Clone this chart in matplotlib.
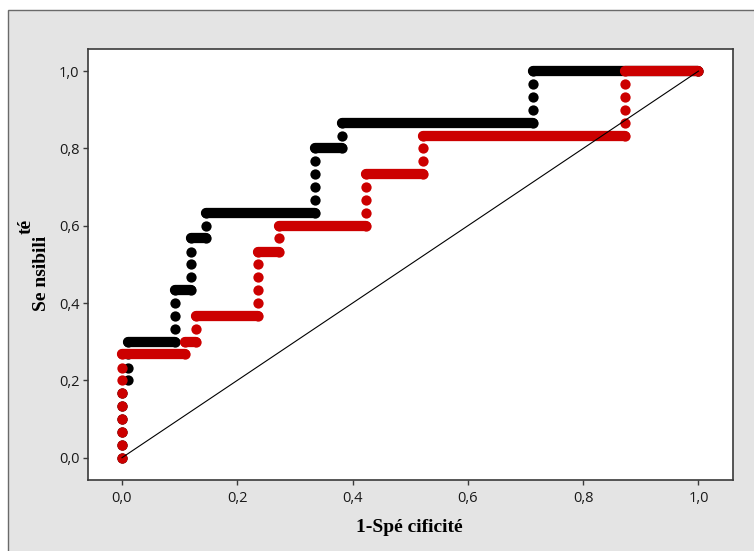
import matplotlib
matplotlib.use("Agg")
import matplotlib.pyplot as plt
from matplotlib.patches import Rectangle

# ---- data (ROC points: 1-specificity, sensitivity) ----
black_fpr = [0.0, 0.0, 0.0, 0.0, 0.0, 0.0,
             0.01, 0.01, 0.01, 0.01,
             0.092, 0.092, 0.092, 0.092, 0.092,
             0.119, 0.119, 0.119, 0.119, 0.119,
             0.145, 0.145, 0.145,
             0.335, 0.335, 0.335, 0.335, 0.335, 0.335,
             0.381, 0.381, 0.381,
             0.713, 0.713, 0.713, 0.713, 0.713,
             1.0]
black_tpr = [0.0, 0.033, 0.067, 0.1, 0.133, 0.167,
             0.2, 0.233, 0.267, 0.3,
             0.3, 0.333, 0.367, 0.4, 0.433,
             0.433, 0.467, 0.5, 0.533, 0.567,
             0.567, 0.6, 0.633,
             0.633, 0.667, 0.7, 0.733, 0.767, 0.8,
             0.8, 0.833, 0.867,
             0.867, 0.9, 0.933, 0.967, 1.0,
             1.0]

red_fpr = [0.0, 0.0, 0.0, 0.0, 0.0, 0.0, 0.0, 0.0, 0.0,
           0.11, 0.11,
           0.128, 0.128, 0.128,
           0.236, 0.236, 0.236, 0.236, 0.236, 0.236,
           0.272, 0.272, 0.272,
           0.423, 0.423, 0.423, 0.423, 0.423,
           0.522, 0.522, 0.522, 0.522,
           0.873, 0.873, 0.873, 0.873, 0.873, 0.873,
           1.0]
red_tpr = [0.0, 0.033, 0.067, 0.1, 0.133, 0.167, 0.2, 0.233, 0.267,
           0.267, 0.3,
           0.3, 0.333, 0.367,
           0.367, 0.4, 0.433, 0.467, 0.5, 0.533,
           0.533, 0.567, 0.6,
           0.6, 0.633, 0.667, 0.7, 0.733,
           0.733, 0.767, 0.8, 0.833,
           0.833, 0.867, 0.9, 0.933, 0.967, 1.0,
           1.0]

ref_line = [0.0, 1.0]
tick_vals = [0.0, 0.2, 0.4, 0.6, 0.8, 1.0]
tick_labels = ["0,0", "0,2", "0,4", "0,6", "0,8", "1,0"]

x_label = "1-Spé cificité"
y_label_main = "Se nsibili"
y_label_tail = "té"

BLACK = "#000000"
RED = "#cc0000"
DOT = 7.4

fig = plt.figure(figsize=(7.54, 5.51), dpi=100)
fig.patch.set_facecolor("white")
fig.patches.append(Rectangle((8 / 754, -0.05), 1.2, (551 - 10) / 551 + 0.05,
                             transform=fig.transFigure, facecolor="#e4e4e4",
                             edgecolor="#6a6a6a", linewidth=1.0, zorder=-5))

ax = fig.add_axes([87.7 / 754, (551 - 480.3) / 551,
                   (732.7 - 87.7) / 754, (480.3 - 48.5) / 551])
ax.set_zorder(2)
ax.set_facecolor("white")


def draw_roc(xs, ys, color, z):
    for i in range(len(xs) - 1):
        if ys[i] == ys[i + 1]:
            ax.plot([xs[i], xs[i + 1]], [ys[i], ys[i + 1]], color=color,
                    lw=DOT, solid_capstyle="round", zorder=z)
    ax.plot(xs, ys, "o", ls="none", ms=DOT, mew=0, color=color, zorder=z)


draw_roc(black_fpr, black_tpr, BLACK, 2)
draw_roc(red_fpr, red_tpr, RED, 3)
ax.plot(ref_line, ref_line, color="black", lw=0.8, zorder=4)

ax.set_xlim(-0.0595, 1.0594)
ax.set_ylim(-0.0585, 1.0585)
ax.set_xticks(tick_vals)
ax.set_xticklabels(tick_labels)
ax.set_yticks(tick_vals)
ax.set_yticklabels(tick_labels)
for s in ["top", "right", "bottom", "left"]:
    ax.spines[s].set_color("#3a3a3a")
    ax.spines[s].set_linewidth(1.2)
ax.tick_params(axis="both", direction="out", length=3.5, width=1,
               color="#3a3a3a", labelcolor="#1a1a1a", labelsize=10.5)
ax.tick_params(axis="x", pad=4)
ax.tick_params(axis="y", pad=2.5)
for lab in ax.get_xticklabels() + ax.get_yticklabels():
    lab.set_family("Open Sans")

fig.text(409 / 754, 1 - 527 / 551, x_label, family="Liberation Serif",
         fontweight="bold", fontsize=14, ha="center", va="center", zorder=3)
fig.text(41.5 / 754, 1 - 273 / 551, y_label_main, family="Liberation Serif",
         fontweight="bold", fontsize=14, ha="center", va="center", rotation=90,
         zorder=3)
fig.text(26 / 754, 1 - 226 / 551, y_label_tail, family="Liberation Serif",
         fontweight="bold", fontsize=14, ha="center", va="center", rotation=90,
         zorder=3)

fig.savefig("out.png", dpi=100)
